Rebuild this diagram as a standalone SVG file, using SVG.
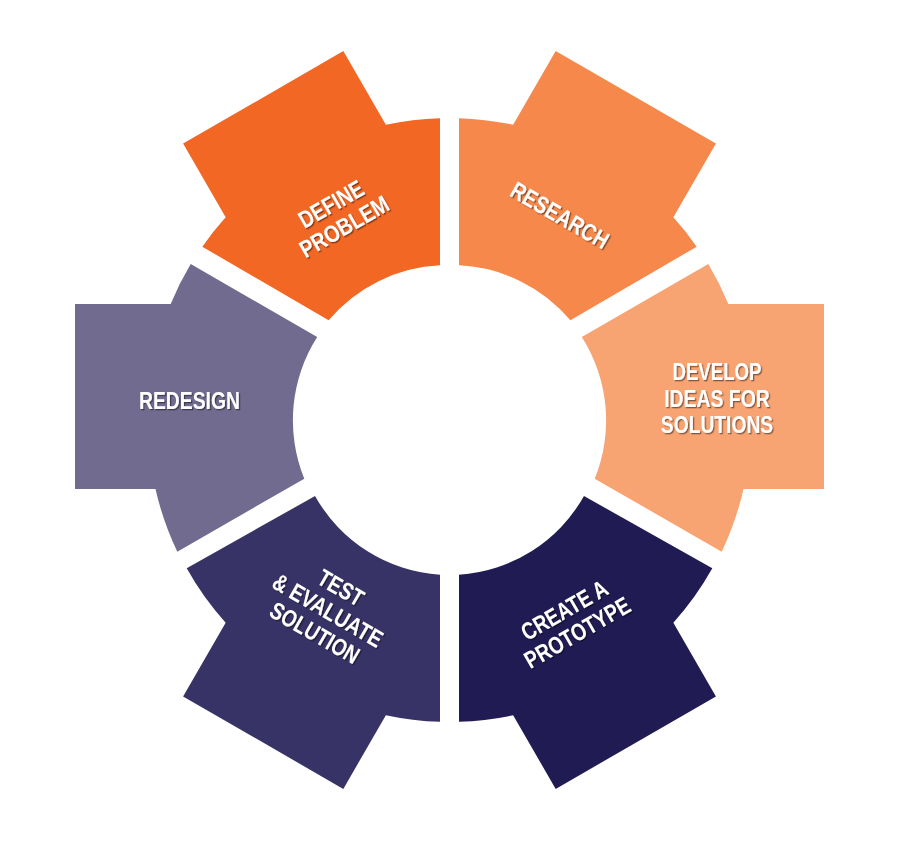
<svg xmlns="http://www.w3.org/2000/svg" width="900" height="846" viewBox="0 0 900 846">
  <defs>
    <filter id="sh" x="-20%" y="-20%" width="140%" height="140%">
      <feDropShadow dx="1.3" dy="1.3" stdDeviation="0.4" flood-color="#000" flood-opacity="0.45"/>
    </filter>
  </defs>
  <style>
    .lbl { font-family: "Liberation Sans", Arial, sans-serif; font-weight: bold; font-size: 24px; fill: #ffffff; text-anchor: middle; }
  </style>
  <rect width="900" height="846" fill="#ffffff"/>

  <g id="define-problem">
    <path fill="#F26724" d="M 440,265.3 L 440,118.15 A 302 302 0 0 0 385.86,124.78 L 343.31,51.07 L 183.09,143.57 L 225.64,217.28 A 302 302 0 0 0 202.3,246.7 L 328.6,320.3 A 155 155 0 0 1 440,265.3 Z"/>
    <g filter="url(#sh)">
      <g transform="translate(337.4,215) rotate(-30)">
        <text class="lbl" x="0" y="-4.3" textLength="71" lengthAdjust="spacingAndGlyphs">DEFINE</text>
        <text class="lbl" x="0" y="21.7" textLength="99" lengthAdjust="spacingAndGlyphs">PROBLEM</text>
      </g>
    </g>
  </g>

  <g id="research">
    <path fill="#F5884A" d="M 459,265.3 L 459,118.15 A 302 302 0 0 1 513.14,124.78 L 555.69,51.07 L 715.91,143.57 L 673.36,217.28 A 302 302 0 0 1 696.7,246.7 L 570.4,320.3 A 155 155 0 0 0 459,265.3 Z"/>
    <g filter="url(#sh)">
      <g transform="translate(560,215) rotate(30)">
        <text class="lbl" x="0" y="8.7" textLength="109" lengthAdjust="spacingAndGlyphs">RESEARCH</text>
      </g>
    </g>
  </g>

  <g id="develop-ideas">
    <path fill="#F7A372" d="M 581.8,337 L 708.3,264 A 302 302 0 0 1 728.33,304 L 824,304 L 824,489 L 743.51,489 A 302 302 0 0 1 721.7,551.7 L 594.7,478.7 A 155 155 0 0 0 581.8,337 Z"/>
    <g filter="url(#sh)">
      <text class="lbl" x="717" y="380" textLength="89" lengthAdjust="spacingAndGlyphs">DEVELOP</text>
      <text class="lbl" x="717" y="406.5" textLength="105.7" lengthAdjust="spacingAndGlyphs">IDEAS FOR</text>
      <text class="lbl" x="717" y="432.7" textLength="112.3" lengthAdjust="spacingAndGlyphs">SOLUTIONS</text>
    </g>
  </g>

  <g id="create-prototype">
    <path fill="#201B52" d="M 584,496 L 712.3,568.3 A 302 302 0 0 1 673.36,622.72 L 715.91,696.43 L 555.69,788.93 L 513.14,715.22 A 302 302 0 0 1 459,721.85 L 459,574.7 A 155 155 0 0 0 584,496 Z"/>
    <g filter="url(#sh)">
      <g transform="translate(570.6,621) rotate(-30)">
        <text class="lbl" x="0" y="-4.3" textLength="96" lengthAdjust="spacingAndGlyphs">CREATE A</text>
        <text class="lbl" x="0" y="21.7" textLength="118" lengthAdjust="spacingAndGlyphs">PROTOTYPE</text>
      </g>
    </g>
  </g>

  <g id="test-evaluate">
    <path fill="#383366" d="M 315,496 L 186.7,568.3 A 302 302 0 0 0 225.64,622.72 L 183.09,696.43 L 343.31,788.93 L 385.86,715.22 A 302 302 0 0 0 440,721.85 L 440,574.7 A 155 155 0 0 1 315,496 Z"/>
    <g filter="url(#sh)">
      <g transform="translate(328,610) rotate(30)">
        <text class="lbl" x="0" y="-17.3" textLength="49" lengthAdjust="spacingAndGlyphs">TEST</text>
        <text class="lbl" x="0" y="8.7" textLength="123" lengthAdjust="spacingAndGlyphs">&amp; EVALUATE</text>
        <text class="lbl" x="0" y="34.7" textLength="99" lengthAdjust="spacingAndGlyphs">SOLUTION</text>
      </g>
    </g>
  </g>

  <g id="redesign">
    <path fill="#716B8F" d="M 317.2,337 L 190.7,264 A 302 302 0 0 0 170.67,304 L 75,304 L 75,489 L 155.49,489 A 302 302 0 0 0 177.3,551.7 L 304.3,478.7 A 155 155 0 0 1 317.2,337 Z"/>
    <g filter="url(#sh)">
      <text class="lbl" x="189.5" y="409" textLength="101" lengthAdjust="spacingAndGlyphs">REDESIGN</text>
    </g>
  </g>

  <g id="connectors"></g>
</svg>
